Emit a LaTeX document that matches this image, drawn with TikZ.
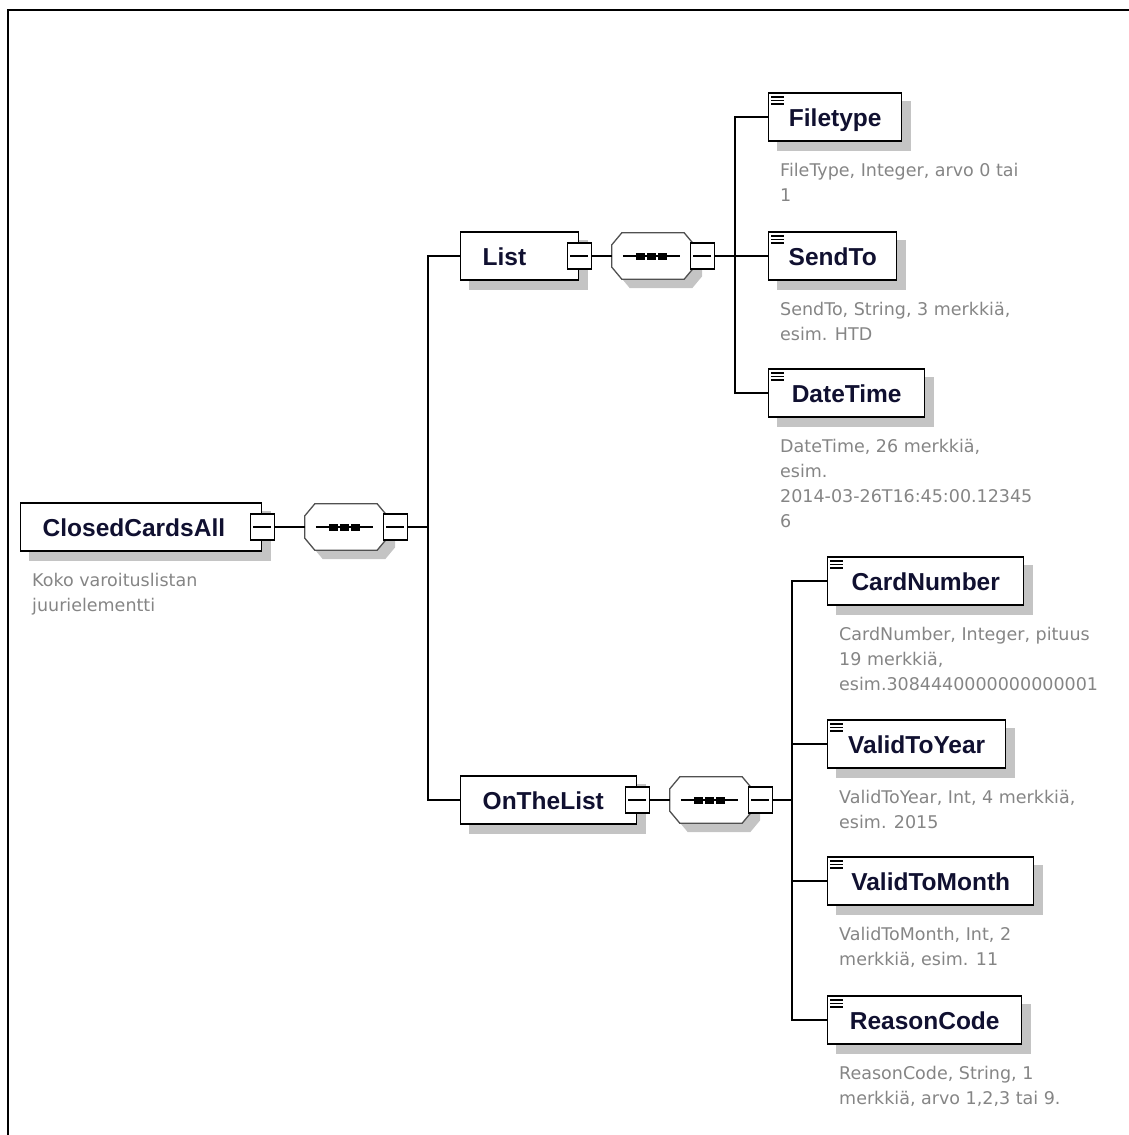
\documentclass[tikz,border=0pt]{standalone}
\usepackage{fontspec}
\setmainfont{Liberation Sans}
\newfontfamily\descfont{DejaVu Sans}
\usetikzlibrary{calc,backgrounds}
\definecolor{labelink}{HTML}{101030}
\definecolor{descink}{HTML}{858585}
\definecolor{shadowgray}{HTML}{C4C4C4}
\definecolor{octline}{HTML}{505050}
\begin{document}
\begin{tikzpicture}[x=1pt,y=-1pt,
  elembox/.style={draw=black, line width=1.4pt, fill=white, minimum height=48pt,
    inner ysep=0pt, text height=18pt, text depth=0pt, text=labelink,
    font=\bfseries\fontsize{24.5}{28}\selectfont, anchor=west},
  parentbox/.style={elembox, inner xsep=22pt, text width=#1, align=left},
  leafbox/.style={elembox, inner xsep=0pt, minimum width=#1},
  minusbox/.style={draw=black, fill=white, line width=1.2pt, minimum width=24pt,
    minimum height=26pt, inner sep=0pt,
    path picture={\draw[line width=1.2pt]
      ([xshift=3pt]path picture bounding box.west) --
      ([xshift=-3pt]path picture bounding box.east);}},
  seqframe/.style={minimum width=82pt, minimum height=46pt, inner sep=0pt},
  desc/.style={anchor=north west, inner sep=0pt, align=left, text=descink,
    font=\descfont\fontsize{17.5}{25}\selectfont},
  conn/.style={line width=1.4pt, draw=black}]

\useasboundingbox (0,0) rectangle (1129,1135);

% frame
\draw[line width=2pt] (8,1135) -- (8,10) -- (1129,10);

% element boxes
\node[parentbox=197pt] (root) at (20,527) {ClosedCardsAll};
\node[parentbox=74pt] (list) at (460,256) {List};
\node[parentbox=132pt] (onthelist) at (460,800) {OnTheList};
\node[leafbox=133pt] (filetype) at (768,117) {Filetype};
\node[leafbox=128pt] (sendto) at (768,256) {SendTo};
\node[leafbox=156pt] (datetime) at (768,393) {DateTime};
\node[leafbox=196pt] (cardnumber) at (827,581) {CardNumber};
\node[leafbox=178pt] (validtoyear) at (827,744) {ValidToYear};
\node[leafbox=206pt] (validtomonth) at (827,881) {ValidToMonth};
\node[leafbox=194pt] (reasoncode) at (827,1020) {ReasonCode};

% sequence compositors
\node[seqframe] (seq1) at (346,527) {};
\node[seqframe] (seq2) at (653,256) {};
\node[seqframe] (seq3) at (711,800) {};
\foreach \s in {seq1,seq2,seq3}{
  \draw[octline, line width=1.3pt, fill=white]
    ($(\s.north west)+(10,0)$) -- ($(\s.north east)+(-10,0)$) --
    ($(\s.north east)+(0,12)$) -- ($(\s.south east)+(0,-12)$) --
    ($(\s.south east)+(-10,0)$) -- ($(\s.south west)+(10,0)$) --
    ($(\s.south west)+(0,-12)$) -- ($(\s.north west)+(0,12)$) -- cycle;
  \draw[line width=1.4pt] ($(\s.west)+(11,0)$) -- ($(\s.east)+(-14,0)$);
  \fill ($(\s.center)+(-17,-3.5)$) rectangle +(9,7);
  \fill ($(\s.center)+(-6,-3.5)$) rectangle +(9,7);
  \fill ($(\s.center)+(5,-3.5)$) rectangle +(9,7);
}

% collapse markers
\node[minusbox] (root-m) at (root.east) {};
\node[minusbox] (list-m) at (list.east) {};
\node[minusbox] (onthelist-m) at (onthelist.east) {};
\node[minusbox] (seq1-m) at ($(seq1.east)+(8,0)$) {};
\node[minusbox] (seq2-m) at ($(seq2.east)+(8,0)$) {};
\node[minusbox] (seq3-m) at ($(seq3.east)+(8,0)$) {};

% connectors
\coordinate (bus1) at (428,527);
\draw[conn] (root-m.east) -- (seq1.west);
\draw[conn] (seq1-m.east) -- (bus1);
\draw[conn] (list.west) -| (bus1) |- (onthelist.west);

\coordinate (bus2) at (735,256);
\draw[conn] (list-m.east) -- (seq2.west);
\draw[conn] (seq2-m.east) -- (bus2) -- (sendto.west);
\draw[conn] (filetype.west) -| (bus2) |- (datetime.west);

\coordinate (bus3) at (792,800);
\draw[conn] (onthelist-m.east) -- (seq3.west);
\draw[conn] (seq3-m.east) -- (bus3);
\draw[conn] (cardnumber.west) -| (bus3) |- (reasoncode.west);
\draw[conn] (validtoyear.west) -- (validtoyear.west -| bus3);
\draw[conn] (validtomonth.west) -- (validtomonth.west -| bus3);

% drop shadows
\begin{scope}[on background layer]
  \foreach \n in {root,list,onthelist,filetype,sendto,datetime,cardnumber,validtoyear,validtomonth,reasoncode}{
    \fill[shadowgray] ([shift={(9,9)}]\n.north west) rectangle ([shift={(9,9)}]\n.south east);
  }
  \foreach \s in {seq1,seq2,seq3}{
    \fill[shadowgray]
      ($(\s.north west)+(18,9)$) -- ($(\s.north east)+(-2,9)$) --
      ($(\s.north east)+(8,21)$) -- ($(\s.south east)+(8,-3)$) --
      ($(\s.south east)+(-2,9)$) -- ($(\s.south west)+(18,9)$) --
      ($(\s.south west)+(8,-3)$) -- ($(\s.north west)+(8,21)$) -- cycle;
  }
\end{scope}

% leaf element icons
\foreach \n in {filetype,sendto,datetime,cardnumber,validtoyear,validtomonth,reasoncode}{
  \foreach \dy in {4.5,8,11.5}{
    \draw[line width=1.4pt] ($(\n.north west)+(3,\dy)$) -- ++(13,0);
  }
}

% annotations
\node[desc] (root-d) at ($(root.south west)+(12,21)$) {Koko varoituslistan\\juurielementti};
\node[desc] (filetype-d) at ($(filetype.south west)+(12,21)$) {FileType, Integer, arvo 0 tai\\1};
\node[desc] (sendto-d) at ($(sendto.south west)+(12,21)$) {SendTo, String, 3 merkkiä,\\esim. HTD};
\node[desc] (datetime-d) at ($(datetime.south west)+(12,21)$) {DateTime, 26 merkkiä,\\esim.\\2014-03-26T16:45:00.12345\\6};
\node[desc] (cardnumber-d) at ($(cardnumber.south west)+(12,21)$) {CardNumber, Integer, pituus\\19 merkkiä,\\esim.3084440000000000001};
\node[desc] (validtoyear-d) at ($(validtoyear.south west)+(12,21)$) {ValidToYear, Int, 4 merkkiä,\\esim. 2015};
\node[desc] (validtomonth-d) at ($(validtomonth.south west)+(12,21)$) {ValidToMonth, Int, 2\\merkkiä, esim. 11};
\node[desc] (reasoncode-d) at ($(reasoncode.south west)+(12,21)$) {ReasonCode, String, 1\\merkkiä, arvo 1,2,3 tai 9.};

\end{tikzpicture}
\end{document}
